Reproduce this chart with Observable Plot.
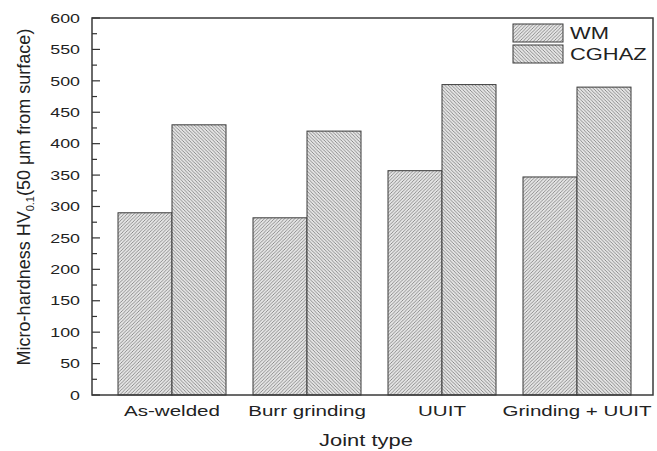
<!DOCTYPE html>
<html><head><meta charset="utf-8">
<script src="https://cdn.jsdelivr.net/npm/d3@7"></script>
<script src="https://cdn.jsdelivr.net/npm/@observablehq/plot@0.6"></script>
<style>
body{margin:0;background:#fff;}
#chart svg{display:block;}
#chart [aria-label^="fx-axis"] text{font-size:15px;}
</style></head><body><div id="chart"></div>
<script>
const categories = ["As-welded", "Burr grinding", "UUIT", "Grinding + UUIT"];
const series = ["WM", "CGHAZ"];
const wmValues = [290, 282, 357, 347];
const cghazValues = [430, 420, 494, 490];
const yTicks = [0, 50, 100, 150, 200, 250, 300, 350, 400, 450, 500, 550, 600];
const yMinorTicks = [25, 75, 125, 175, 225, 275, 325, 375, 425, 475, 525, 575];
const yTitleMain = "Micro-hardness HV";
const yTitleSub = "0.1";
const yTitleRest = "(50 \u03bcm from surface)";
const xTitle = "Joint type";

const data = categories.flatMap((c, i) => [
  {category: c, series: series[0], value: wmValues[i]},
  {category: c, series: series[1], value: cghazValues[i]}
]);

const W = 657, H = 451, mL = 92, mR = 4, mT = 18, mB = 56;
const fills = {WM: "url(#hatch-wm)", CGHAZ: "url(#hatch-cghaz)"};
const SX = 1.37;

const chart = Plot.plot({
  width: W, height: H,
  marginLeft: mL, marginRight: mR, marginTop: mT, marginBottom: mB,
  style: {fontFamily: "Liberation Sans, Arial, sans-serif", fontSize: "13px", color: "#222", background: "#fff"},
  fx: {domain: categories, paddingInner: 0.193, paddingOuter: 0.174, align: 0.53, label: null, tickSize: 0, tickPadding: 10, axis: "bottom"},
  x: {domain: series, axis: null, padding: 0},
  y: {domain: [0, 600], ticks: yTicks, tickSize: 0, tickPadding: 12, label: null, tickFormat: d => String(d)},
  marks: series.map(s => Plot.barY(data.filter(d => d.series === s), {
    fx: "category", x: "series", y: "value",
    fill: fills[s], stroke: "#3a3a3a", strokeWidth: 1
  }))
});
document.getElementById("chart").append(chart);

const svg = d3.select(chart);
const defs = svg.insert("defs", ":first-child");
function hatch(id, up) {
  const s = 3.4;
  const p = defs.append("pattern").attr("id", id).attr("patternUnits", "userSpaceOnUse")
    .attr("width", s).attr("height", s);
  p.append("rect").attr("width", s).attr("height", s).attr("fill", "#e4e4e4");
  p.append("path")
    .attr("d", up
      ? `M-1,1L1,-1M0,${s}L${s},0M${s-1},${s+1}L${s+1},${s-1}`
      : `M-1,${s-1}L1,${s+1}M0,0L${s},${s}M${s-1},-1L${s+1},1`)
    .attr("stroke", "#808080").attr("stroke-width", 0.85);
}
hatch("hatch-wm", true);
hatch("hatch-cghaz", false);

// horizontal stretch of a text around its measured anchor; optionally move that anchor to screen x = target
function stretch(el, s, anchor, target) {
  const b = el.getBBox();
  const ax = anchor === "end" ? b.x + b.width : anchor === "middle" ? b.x + b.width / 2 : b.x;
  let shift = 0;
  if (target != null) {
    const m = el.getCTM();
    shift = (target - (ax * m.a + m.e)) / m.a;
  }
  const t = el.getAttribute("transform") || "";
  el.setAttribute("transform", `${t} translate(${ax + shift},0) scale(${s},1) translate(${-ax},0)`);
}
chart.querySelectorAll('[aria-label^="y-axis"] text').forEach(el => stretch(el, SX, "end", mL - 12));
chart.querySelectorAll('[aria-label^="fx-axis"] text').forEach(el => stretch(el, SX, "middle"));

// frame
svg.append("rect").attr("x", mL).attr("y", mT).attr("width", W - mL - mR).attr("height", H - mT - mB)
  .attr("fill", "none").attr("stroke", "#3a3a3a").attr("stroke-width", 1.5);

// inward ticks
const y = chart.scale("y");
const tg = svg.append("g").attr("stroke", "#333").attr("stroke-width", 1.2);
yTicks.forEach(v => tg.append("line").attr("x1", mL).attr("x2", mL + 8).attr("y1", y.apply(v)).attr("y2", y.apply(v)));
yMinorTicks.forEach(v => tg.append("line").attr("x1", mL).attr("x2", mL + 5).attr("y1", y.apply(v)).attr("y2", y.apply(v)));

// y title
const yt = svg.append("text").attr("transform", "translate(30,197) rotate(-90)")
  .attr("text-anchor", "middle").attr("fill", "#222").style("font-size", "18px");
yt.append("tspan").text(yTitleMain);
yt.append("tspan").attr("dy", 4).style("font-size", "11px").text(yTitleSub);
yt.append("tspan").attr("dy", -4).text(yTitleRest);

// x title
const xt = svg.append("text").attr("x", 366).attr("y", 446).attr("text-anchor", "middle")
  .attr("fill", "#222").style("font-size", "16px").text(xTitle);
stretch(xt.node(), SX, "middle");

// legend
series.forEach((s, i) => {
  const y0 = 24 + i * 21;
  svg.append("rect").attr("x", 513).attr("y", y0).attr("width", 50).attr("height", 18)
    .attr("fill", fills[s]).attr("stroke", "#3a3a3a").attr("stroke-width", 1);
  const t = svg.append("text").attr("x", 570).attr("y", y0 + 15).attr("fill", "#222")
    .attr("text-anchor", "start").style("font-size", "16px").text(s);
  stretch(t.node(), SX, "start");
});
</script></body></html>
